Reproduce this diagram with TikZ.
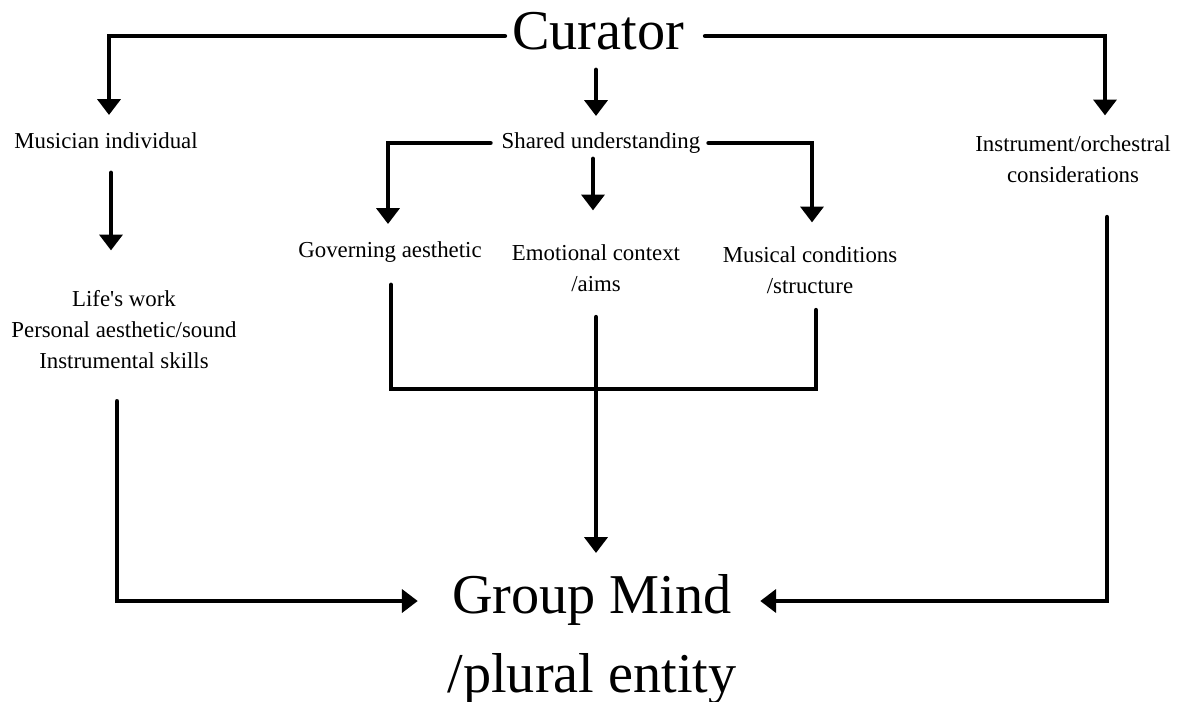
\documentclass[tikz,border=0pt]{standalone}
\usepackage{fontspec}
\setmainfont{Liberation Serif}
\usetikzlibrary{arrows.meta,calc}

\begin{document}
\begin{tikzpicture}[x=0.02cm,y=-0.02cm,>={Triangle[width=13pt,length=9pt]},
    line width=2.8pt,line cap=round,
    big/.style={inner sep=0pt,font=\fontsize{32pt}{40pt}\selectfont},
    small/.style={inner sep=0pt,align=center,font=\fontsize{13pt}{17.6pt}\selectfont}]
    \useasboundingbox (0,0) rectangle (1196,702);

    \node[big, anchor=base] (cur) at (598,50) {Curator};
    \node[small, anchor=base] (mus) at (106,149) {Musician individual};
    \node[small, anchor=base] (shr) at (601,149) {Shared understanding};
    \node[small, anchor=north] (ins) at (1073,133.4) {Instrument/orchestral\\considerations};
    \node[small, anchor=base] (gov) at (390,258) {Governing aesthetic};
    \node[small, anchor=north] (emo) at (596,242.4) {Emotional context\\/aims};
    \node[small, anchor=north] (mcs) at (810,244.4) {Musical conditions\\/structure};
    \node[small, anchor=north] (life) at (124,288.4) {Life\textquotesingle s work\\Personal aesthetic/sound\\Instrumental skills};
    \node[big, anchor=base] (grp) at (592,613) {Group Mind};
    \node[big, anchor=base] (plu) at (592,692) {/plural entity};

    % from the curator
    \draw[->] ($(cur.base west)+(-5,-14)$) -| ($(mus.base)+(3,-34)$);
    \draw[->] ($(cur.base east)+(19,-14)$) -| ($(ins.north)+(32,-18)$);
    \draw[->] ($(cur.base)+(-2,20)$) -- ($(shr.base)+(-5,-33)$);

    % shared understanding splits
    \draw[->] ($(shr.base west)+(-9,-6)$) -| ($(gov.base)+(-2,-34)$);
    \draw[->] ($(shr.base)+(-8,10)$) -- ($(emo.north)+(-3,-32)$);
    \draw[->] ($(shr.base east)+(6,-6)$) -| ($(mcs.north)+(2,-22)$);

    \draw[->] ($(mus.base)+(5,24)$) -- ($(life.north)+(-13,-38)$);

    % into the group mind
    \coordinate (join) at (596,389);
    \draw ($(gov.base)+(1,27)$) |- (join) -| ($(mcs.south)+(6,14)$);
    \draw[->] ($(emo.south)+(0,23)$) -- ($(grp.base)+(4,-60)$);
    \draw[->] ($(life.south)+(-7,30)$) |- ($(grp.base west)+(-32,-12)$);
    \draw[->] ($(ins.south)+(34,32)$) |- ($(grp.base east)+(26,-12)$);
\end{tikzpicture}
\end{document}
